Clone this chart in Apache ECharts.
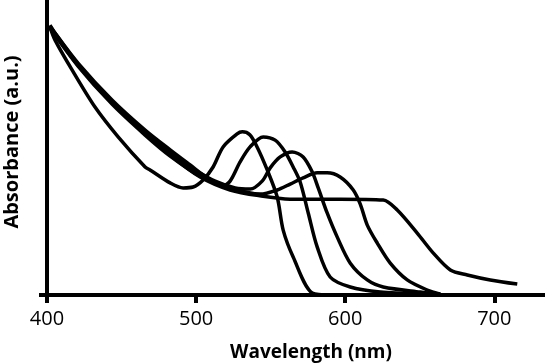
<!DOCTYPE html>
<html>
<head>
<meta charset="utf-8">
<script src="https://cdn.jsdelivr.net/npm/echarts@6/dist/echarts.min.js"></script>
<style>html,body{margin:0;padding:0;background:#fff}#c{width:545px;height:364px}</style>
</head>
<body>
<div id="c"></div>
<script>
var xTicks = [400, 500, 600, 700];

var wl1 = [402, 405.4, 416.8, 432.2, 447.7, 465.8, 469.1, 482.6, 491.3, 498.0, 504.7, 511.4, 518.1, 527.5, 531, 536, 540.9, 547.7, 554.4, 558.4, 565.1, 577.9, 590];
var ab1 = [90.8, 86.4, 76.3, 63.7, 53.6, 43.4, 42.4, 38.0, 36.3, 36.6, 39.0, 43.4, 50.2, 54.6, 55.3, 54.3, 50.2, 42.4, 33.2, 22.0, 12.9, 0.7, 0];

var wl2 = [402, 405.4, 420.8, 443.6, 465.8, 482.6, 496.0, 504.7, 512.8, 517.4, 522.8, 529.5, 536.2, 545.0, 553.0, 559.7, 565.1, 569.8, 575.2, 581.2, 589.9, 603.4, 623.5, 650.3];
var ab2 = [91.5, 88.8, 78.6, 66.1, 55.9, 49.2, 44.1, 40.7, 38.0, 36.9, 38.6, 45.1, 50.2, 53.6, 52.5, 48.5, 43.4, 38.3, 27.8, 16.3, 6.1, 2.7, 1.0, 0.3];

var wl3 = [402, 420.8, 443.6, 465.8, 482.6, 499.3, 512.8, 526.2, 536.2, 544.3, 549.7, 556.4, 564.4, 571.8, 577.9, 581.9, 587.9, 594.6, 603.4, 614.8, 625.5, 650.3, 663.8];
var ab3 = [90.8, 77.9, 65.1, 54.9, 48.1, 42.4, 38.6, 36.3, 35.9, 38.6, 43.1, 46.8, 48.5, 46.8, 41.7, 36.3, 27.8, 19.7, 10.8, 5.1, 2.7, 1.0, 0.3];

var wl4 = [402, 420.8, 443.6, 465.8, 482.6, 502.7, 522.8, 543.0, 554.4, 563.1, 571.8, 581.2, 587.9, 596.6, 605.4, 610.1, 614.8, 621.5, 630.2, 641.6, 655.0, 663.8];
var ab4 = [90.5, 77.6, 64.7, 54.2, 47.1, 40.3, 36.3, 34.2, 35.6, 37.6, 39.7, 41.4, 41.4, 40.0, 35.6, 30.8, 23.7, 17.6, 10.8, 5.1, 1.7, 0.3];

var wl5 = [402, 420.8, 443.6, 465.8, 482.6, 502.7, 522.8, 543.0, 563.1, 596.6, 625.5, 634.9, 648.3, 659.1, 670.5, 681.9, 697.3, 715.4];
var ab5 = [91.2, 78.3, 65.4, 54.9, 47.5, 40.0, 35.6, 33.6, 32.5, 32.5, 32.2, 28.8, 21.0, 14.2, 8.5, 6.8, 5.1, 3.7];

function pairs(xs, ys) { return xs.map(function (x, i) { return [x, ys[i]]; }); }

var curves = [[wl1, ab1], [wl2, ab2], [wl3, ab3], [wl4, ab4], [wl5, ab5]];

var chart = echarts.init(document.getElementById('c'), null, { renderer: 'canvas' });
chart.setOption({
  animation: false,
  backgroundColor: '#fff',
  grid: { left: 47, right: 0, top: 0, bottom: 69, containLabel: false },
  xAxis: {
    type: 'value', min: 400, max: 734,
    axisLine: { lineStyle: { color: '#000', width: 4 } },
    axisTick: { show: true, customValues: xTicks, length: 8, lineStyle: { color: '#000', width: 4 } },
    axisLabel: { customValues: xTicks, color: '#000', fontSize: 20, fontFamily: 'Open Sans', margin: 14 },
    splitLine: { show: false }
  },
  yAxis: {
    type: 'value', min: 0, max: 100,
    axisLine: { show: true, lineStyle: { color: '#000', width: 4 } },
    axisTick: { show: true, customValues: [0], length: 8, lineStyle: { color: '#000', width: 4 } },
    axisLabel: { show: false },
    splitLine: { show: false }
  },
  graphic: [
    { type: 'text', x: 311, y: 353, style: { text: 'Wavelength (nm)', x: 0, y: 0, align: 'center', verticalAlign: 'middle', font: 'bold 19px "Open Sans"', fill: '#000' } },
    { type: 'text', x: 12, y: 142, rotation: Math.PI / 2, style: { text: 'Absorbance (a.u.)', x: 0, y: 0, align: 'center', verticalAlign: 'middle', font: 'bold 20px "Open Sans"', fill: '#000' } }
  ],
  series: curves.map(function (c) {
    return {
      type: 'line', data: pairs(c[0], c[1]), smooth: 0.3, showSymbol: false,
      lineStyle: { color: '#000', width: 3.5 }, clip: false
    };
  })
});
</script>
</body>
</html>
